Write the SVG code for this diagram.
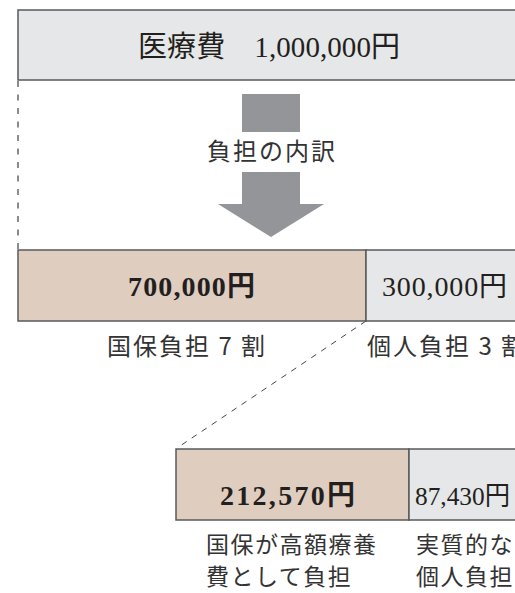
<svg xmlns="http://www.w3.org/2000/svg" width="515" height="593" viewBox="0 0 515 593">
<style>
.box{stroke:#58595b;stroke-width:1.5}
.gray{fill:#e6e7e8}
.tan{fill:#dfcdc0}
.num{font-family:"Liberation Serif","Noto Sans CJK JP",serif;fill:#231f20}
.lbl{font-family:"Noto Sans CJK JP","Noto Sans",sans-serif;fill:#333;font-size:24px;letter-spacing:2px}
.lbl2{font-family:"Noto Sans CJK JP","Noto Sans",sans-serif;fill:#333;font-size:23px;letter-spacing:1.5px}
.dash{stroke:#444;stroke-width:1;fill:none;stroke-dasharray:6 6}
</style>
<rect width="515" height="593" fill="#fff"/>
<g id="connectors">
<line class="dash" x1="18" y1="81" x2="18" y2="250" style="stroke-dasharray:6 7.5;stroke:#666;stroke-width:1.5"/>
<line class="dash" x1="366" y1="321" x2="177" y2="448"/>
</g>
<g id="total">
<rect class="box gray" x="18" y="10" width="500" height="70"/>
<text class="num" x="138" y="57" font-size="29" textLength="262" lengthAdjust="spacing">医療費　1,000,000円</text>
</g>
<g id="arrow">
<rect x="242" y="94" width="58" height="38" fill="#939598"/>
<polygon points="242,172 300,172 300,204 324,204 271,237 218,204 242,204" fill="#939598"/>
<text class="lbl" x="207" y="160">負担の内訳</text>
</g>
<g id="kokuho">
<rect class="box tan" x="18" y="250" width="348" height="71"/>
<text class="num" x="128" y="296" font-size="28" font-weight="bold" textLength="127" lengthAdjust="spacing">700,000円</text>
<text class="lbl" x="107" y="355">国保負担 7 割</text>
</g>
<g id="kojin">
<rect class="box gray" x="366" y="250" width="152" height="71"/>
<text class="num" x="382" y="296" font-size="28" textLength="125" lengthAdjust="spacing">300,000円</text>
<text class="lbl" x="367" y="355">個人負担 3 割</text>
</g>
<g id="kogaku">
<rect class="box tan" x="176" y="449" width="233" height="71"/>
<text class="num" x="220" y="505" font-size="28" font-weight="bold" textLength="135" lengthAdjust="spacing">212,570円</text>
<text class="lbl2" x="206" y="553">国保が高額療養</text>
<text class="lbl2" x="206" y="585">費として負担</text>
</g>
<g id="jisshitsu">
<rect class="box gray" x="409" y="449" width="110" height="71"/>
<text class="num" x="415" y="505" font-size="26" textLength="95" lengthAdjust="spacingAndGlyphs">87,430円</text>
<text class="lbl2" x="416" y="553">実質的な</text>
<text class="lbl2" x="416" y="585">個人負担</text>
</g>
</svg>
